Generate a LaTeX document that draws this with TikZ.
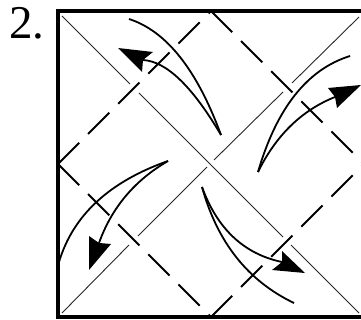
\documentclass[tikz,border=0pt]{standalone}
\usepackage{fontspec}
\usetikzlibrary{calc}
\setmainfont{Liberation Serif}
\newcommand{\sweepline}[3]{\draw[sweep] (#1) .. controls ($(#1)!0.667!(#2)$) and ($(#3)!0.667!(#2)$) .. (#3);}
\begin{document}
\begin{tikzpicture}[
    x=1pt, y=-1pt,
    paper/.style={line width=3.8pt, line cap=rect},
    crease/.style={line width=0.9pt, black!85},
    foldline/.style={line width=1.8pt, dash pattern=on 30pt off 12.6pt},
    sweep/.style={line width=1.8pt},
    head/.style={fill=black, draw=none},
    every node/.style={inner sep=0pt}
]
    \useasboundingbox (0,0) rectangle (361,320);
    \clip (0,0) rectangle (361,320);
    \node[anchor=base west, font=\fontsize{47}{47}\selectfont] (stepno) at (9,39) {2.};
    % corners and middles of the sides
    \coordinate (nw) at (58,11);
    \coordinate (ne) at (364,11);
    \coordinate (sw) at (58,317);
    \coordinate (se) at (364,317);
    \coordinate (top) at (211,11);
    \coordinate (lft) at (58,164);
    \coordinate (rgt) at (364,164);
    \coordinate (bot) at (211,317);
    \draw[paper] (nw) -- (ne) -- (se) -- (sw) -- cycle;
    % diagonals, broken where the folds cross
    \draw[crease] (62,16) -- (130,84);
    \draw[crease] (139,93) -- (283,237);
    \draw[crease] (291,245) -- (359,313);
    \draw[crease] (62,313) -- (129,245);
    \draw[crease] (138,236) -- (207,167);
    \draw[crease] (214,160) -- (283,92);
    \draw[crease] (292,83) -- (359,17);
    % folds
    \draw[foldline] (lft) -- (top);
    \draw[foldline] (lft) -- (bot);
    \draw[foldline] (top) -- (rgt);
    \draw[foldline] (bot) -- (rgt);
    % upper left
    \coordinate (tipa) at (221,135);
    \coordinate (stra) at (129,19);
    \coordinate (cona) at (185,37);
    \coordinate (coea) at (178,62);
    \coordinate (enda) at (143,60);
    \sweepline{stra}{cona}{tipa}
    \sweepline{tipa}{coea}{enda}
    \fill[head] (118,48) -- (153,52) -- (enda) -- (142,72) -- cycle;
    % upper right
    \coordinate (tipb) at (258,172);
    \coordinate (strb) at (350,56);
    \coordinate (conb) at (286,76);
    \coordinate (coeb) at (285,117);
    \coordinate (endb) at (335,97);
    \sweepline{strb}{conb}{tipb}
    \sweepline{tipb}{coeb}{endb}
    \fill[head] (361,85) -- (328,88) -- (endb) -- (337,108) -- cycle;
    % lower left
    \coordinate (tipc) at (168,161);
    \coordinate (strc) at (59,262);
    \coordinate (conc) at (80,192);
    \coordinate (coec) at (118,190);
    \coordinate (endc) at (99,243);
    \sweepline{tipc}{conc}{strc}
    \sweepline{tipc}{coec}{endc}
    \fill[head] (89,270) -- (89,236) -- (endc) -- (111,244) -- cycle;
    % lower right
    \coordinate (tipd) at (202,187);
    \coordinate (strd) at (294,303);
    \coordinate (cond) at (225,270);
    \coordinate (coed) at (225,250);
    \coordinate (endd) at (282,262);
    \sweepline{tipd}{cond}{strd}
    \sweepline{tipd}{coed}{endd}
    \fill[head] (305,273) -- (282,251) -- (endd) -- (272,270) -- cycle;
\end{tikzpicture}
\end{document}
